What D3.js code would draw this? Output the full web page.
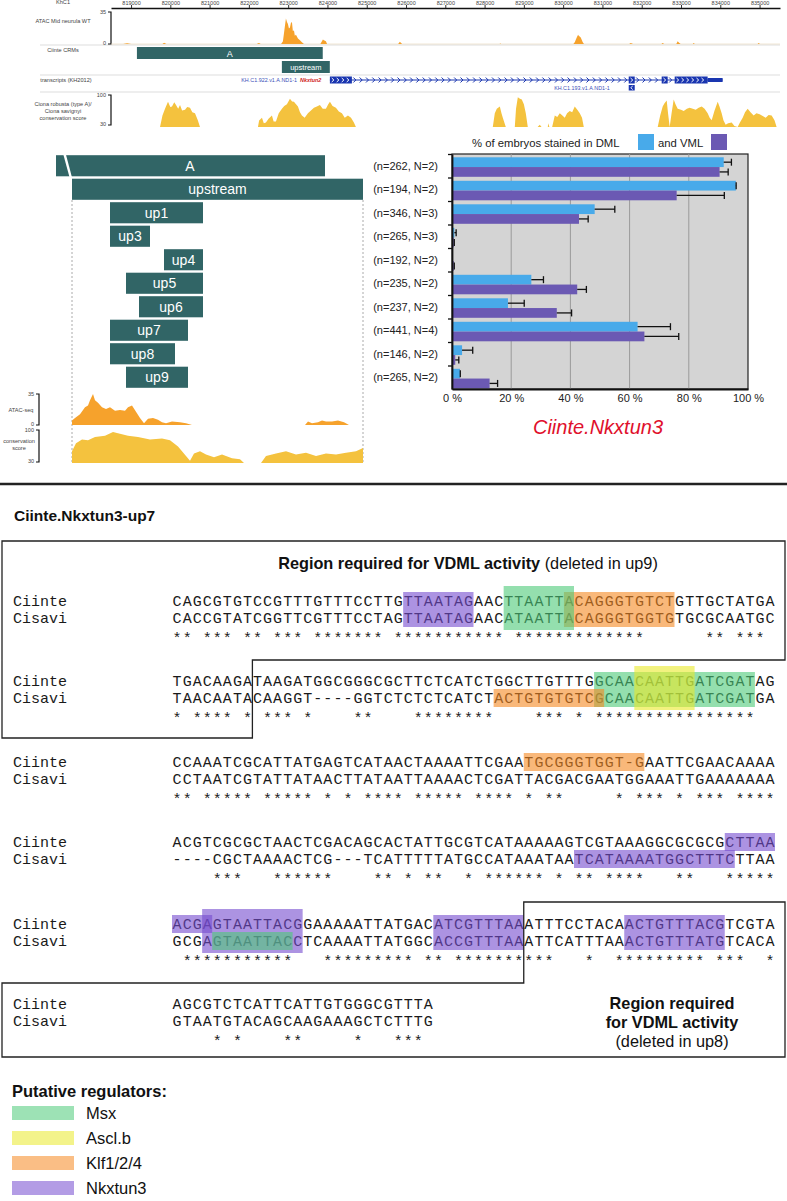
<!DOCTYPE html>
<html lang="en">
<head>
<meta charset="utf-8">
<title>Ciinte.Nkxtun3 upstream CRM</title>
<script src="https://cdn.jsdelivr.net/npm/d3@7"></script>
<style>
  body { margin: 0; background: #fff; }
  svg { display: block; font-family: "Liberation Sans", Arial, sans-serif; }
  .seq { font-family: "Liberation Mono", "Courier New", monospace; font-size: 15px; fill: #1a1a1a; }
  .narrow { font-family: "Liberation Sans Narrow", "Arial Narrow", "Liberation Sans", sans-serif; }
</style>
</head>
<body>
<div id="chart"></div>
<script>
// ---------- genome browser (KhC1) ----------
var axisTicks = [819000, 820000, 821000, 822000, 823000, 824000, 825000, 826000, 827000,
                 828000, 829000, 830000, 831000, 832000, 833000, 834000, 835000];

// ATAC mid neurula WT, [position, signal]; null = no data
var atacTop = [[818800,0],[818900,0.8],[819000,0],[819800,0],[819840,1.5],[819900,0],
  [822200,0],[822256,1],[822300,0],
  [822820,0],[822867,3],[822918,20],[822943,28],[822970,24],[822994,22],[823020,17],[823045,18],[823070,23],
  [823096,24],[823120,14],[823147,15],[823170,9],[823198,10],[823249,6],[823300,4],[823350,2],[823402,0],
  [823820,0],[823859,3],[823885,5],[823910,4],[823961,3],[823990,0],
  [825800,0],[825843,2.5],[825900,0],[828380,0],[828400,0.6],[828420,0],
  [830260,0],[830295,2],[830346,7],[830380,10],[830397,9],[830448,7],[830499,2],[830530,0],
  [831680,0],[831720,1.2],[831780,0],[832500,0],[832534,1],[832570,0],
  [832880,0],[832916,3],[832950,1.5],[832990,0],[833300,0],[833323,1],[833350,0],
  [834950,0],[834976,1],[835010,0]];

// conservation score C. robusta / C. savignyi, [position, score]
var consTop = [[819738,30],[819800,55],[819865,70],[819941,85],[820000,74],[820043,75],[820100,84],[820145,78],
  [820200,70],[820247,78],[820300,66],[820374,68],[820430,74],[820501,72],[820560,62],[820628,60],[820700,45],[820755,30],[820756,null],
  [822231,30],[822260,44],[822333,50],[822380,38],[822434,40],[822500,48],[822587,55],[822630,42],[822689,42],
  [822760,60],[822841,70],[822900,76],[822968,80],[823045,92],[823100,86],[823147,85],[823200,80],[823249,75],
  [823300,62],[823350,55],[823420,50],[823503,60],[823580,66],[823656,72],[823730,75],[823808,78],[823880,70],
  [823961,70],[824020,80],[824063,85],[824130,76],[824215,72],[824290,64],[824368,60],[824440,50],[824521,55],
  [824600,50],[824673,40],[824724,30],[824725,null],
  [828209,30],[828260,60],[828311,70],[828388,75],[828430,60],[828464,50],[828540,30],[828769,30],[828800,70],
  [828846,95],[828900,92],[828947,90],[829000,80],[829049,60],[829100,30],[829350,30],[829405,35],[829450,30],
  [829609,30],[829620,38],[829650,30],[829720,30],[829787,55],[829850,52],[829914,60],[829980,55],[830041,50],
  [830100,60],[830168,65],[830230,62],[830295,75],[830360,68],[830423,60],[830480,50],[830525,30],[830526,null],
  [832407,30],[832470,55],[832534,75],[832580,82],[832636,88],[832670,60],[832712,30],[832760,60],[832814,90],
  [832860,80],[832916,70],[833000,68],[833069,65],[833150,70],[833221,72],[833300,70],[833374,68],[833450,72],
  [833527,75],[833600,70],[833679,60],[833730,50],[833781,45],[833850,65],[833934,85],[833980,75],[834035,60],
  [834080,45],[834137,35],[834200,38],[834290,40],[834360,32],[834442,30],[834500,40],[834570,50],[834630,62],
  [834697,70],[834770,62],[834850,55],[834920,60],[835002,58],[835080,54],[835155,50],[835230,56],[835307,55],
  [835380,45],[835434,30]];

var crmNames = ["A", "upstream"];
var crmStart = [819150, 822840];
var crmEnd = [823880, 824060];

// KH.C1.922 (Nkxtun2) gene model
var exonStart = [824062, 831669, 832508, 832839];
var exonEnd = [824622, 831822, 832661, 833678];
var utrEnd = 834060;
// KH.C1.193 short transcript (reverse strand)
var revExon = [831669, 831822];

// ---------- constructs and reporter assay ----------
var constructs = ["A", "upstream", "up1", "up3", "up4", "up5", "up6", "up7", "up8", "up9"];
var conStart = [-160, 0, 380, 380, 920, 540, 670, 380, 380, 540];
var conEnd = [2530, 2910, 1310, 780, 1310, 1310, 1310, 1160, 1030, 1160];
var nLabels = ["(n=262, N=2)", "(n=194, N=2)", "(n=346, N=3)", "(n=265, N=3)", "(n=192, N=2)",
               "(n=235, N=2)", "(n=237, N=2)", "(n=441, N=4)", "(n=146, N=2)", "(n=265, N=2)"];
var dml = [91.8, 95.9, 48.2, 0.8, 0, 26.8, 18.9, 62.7, 3.4, 2.7];
var dmlErr = [94.4, 96.0, 55.0, 1.4, 0, 30.9, 24.4, 73.8, 7.0, 2.8];
var vml = [90.4, 75.9, 42.9, 0.6, 0.6, 42.3, 35.4, 65.0, 1.1, 12.7];
var vmlErr = [93.3, 92.0, 46.0, 0.6, 0.6, 45.4, 40.4, 76.6, 2.3, 15.4];
var pctTicks = [0, 20, 40, 60, 80, 100];

// ATAC-seq and conservation under the upstream fragment, [bp, value]
var atacCon = [[0,0],[0,5],[30,8],[80,12],[130,20],[160,22],[180,28],[210,35],[230,28],[260,25],[300,20],
  [340,18],[380,20],[430,16],[480,17],[530,16],[560,20],[600,22],[640,15],[680,8],[720,2],[760,7],[810,8],
  [860,6],[900,3],[940,2],[1000,4],[1080,3],[1140,2],[1200,0],[1201,null],
  [2330,0],[2360,4],[2400,2],[2460,3],[2500,5],[2540,4],[2600,4],[2660,5],[2720,3],[2770,0]];
var consCon = [[0,55],[40,72],[100,80],[160,78],[230,85],[330,88],[410,96],[480,92],[560,88],[660,85],
  [780,80],[900,82],[980,78],[1060,65],[1140,45],[1180,35],[1220,50],[1280,55],[1340,48],[1420,42],
  [1500,48],[1600,40],[1680,38],[1720,30],[1721,null],[1890,30],[1940,45],[2040,50],[2140,55],[2240,48],
  [2340,52],[2440,45],[2540,50],[2640,48],[2740,52],[2840,55],[2910,62]];

// ---------- Ciinte.Nkxtun3-up7 alignment ----------
var ciinte = ["CAGCGTGTCCGTTTGTTTCCTTGTTAATAGAACTTAATTACAGGGTGTCTGTTGCTATGA",
              "TGACAAGATAAGATGGCGGGCGCTTCTCATCTGGCTTGTTTGGCAACAATTGATCGATAG",
              "CCAAATCGCATTATGAGTCATAACTAAAATTCGAATGCGGGTGGT-GAATTCGAACAAAA",
              "ACGTCGCGCTAACTCGACAGCACTATTGCGTCATAAAAAGTCGTAAAGGCGCGCGCTTAA",
              "ACGAGTAATTACGGAAAAATTATGACATCGTTTAAATTTCCTACAACTGTTTACGTCGTA",
              "AGCGTCTCATTCATTGTGGGCGTTTA"];
var cisavi = ["CACCGTATCGGTTCGTTTCCTAGTTAATAGAACATAATTACAGGGTGGTGTGCGCAATGC",
              "TAACAATACAAGGT----GGTCTCTCTCATCTACTGTGTGTCGCAACAATTGATCGATGA",
              "CCTAATCGTATTATAACTTATAATTAAAACTCGATTACGACGAATGGAAATTGAAAAAAA",
              "----CGCTAAAACTCG---TCATTTTTATGCCATAAATAATCATAAAATGGCTTTCTTAA",
              "GCGAGTAATTACCTCAAAATTATGGCACCGTTTAAATTCATTTAAACTGTTTATGTCACA",
              "GTAATGTACAGCAAGAAAGCTCTTTG"];

var regulators = ["Msx", "Ascl.b", "Klf1/2/4", "Nkxtun3"];
// binding-site highlights: block, first/last column (1-based), first/last row (0 Ciinte, 1 Cisavi)
var hlBlock = [0, 0, 0, 1, 1, 1, 2, 3, 3, 4, 4, 4, 4, 4];
var hlFrom  = [24, 40, 34, 43, 33, 47, 36, 56, 41, 1, 4, 5, 27, 46];
var hlTo    = [30, 50, 40, 58, 43, 52, 47, 60, 56, 4, 13, 12, 35, 55];
var hlRow0  = [0, 0, 0, 0, 1, 0, 0, 0, 1, 0, 0, 1, 0, 0];
var hlRow1  = [1, 1, 1, 1, 1, 1, 0, 0, 1, 0, 1, 1, 1, 1];
var hlReg   = ["Nkxtun3", "Klf1/2/4", "Msx", "Msx", "Klf1/2/4", "Ascl.b", "Klf1/2/4", "Nkxtun3", "Nkxtun3",
               "Nkxtun3", "Nkxtun3", "Msx", "Nkxtun3", "Nkxtun3"];
var hlTall  = [0, 0, 1, 0, 0, 1, 0, 0, 0, 0, 1, 0, 0, 0];

// ================= drawing =================
var W = 787, H = 1201;
var svg = d3.select("#chart").append("svg").attr("width", W).attr("height", H);
svg.append("rect").attr("width", W).attr("height", H).attr("fill", "#fff");

var atacColor = "#f6a22c", consColor = "#f4c23e", teal = "#316566";

// --- browser ---
var xg = d3.scaleLinear().domain([818490, 835520]).range([111, 780]);
var gb = svg.append("g");

var gAxis = gb.append("g").attr("transform", "translate(0,8)")
  .call(d3.axisTop(xg).tickValues(axisTicks).tickSize(3).tickSizeOuter(0).tickFormat(d3.format("d")));
gAxis.select(".domain").attr("stroke", "#111").attr("stroke-width", 1.3);
gAxis.selectAll(".tick line").attr("stroke", "#333");
gAxis.selectAll(".tick text").attr("y", -3.5).attr("font-size", 5.5).attr("fill", "#444");

gb.selectAll(".sep").data([45, 75, 92]).enter().append("line")
  .attr("x1", 40).attr("x2", 780).attr("y1", function(d) { return d; }).attr("y2", function(d) { return d; })
  .attr("stroke", "#d4d4d4").attr("stroke-width", 0.8);

var trackLabels = [["KhC1", 4], ["ATAC Mid neurula WT", 23], ["Ciinte CRMs", 52], ["transcripts (KH2012)", 82],
  ["Ciona robusta (type A)/", 106], ["Ciona savignyi", 113], ["conservation score", 120]];
gb.selectAll(".tl").data(trackLabels).enter().append("text")
  .attr("x", function(d, i) { return i == 3 ? 66 : 63; }).attr("y", function(d) { return d[1]; })
  .attr("text-anchor", "middle").attr("font-size", 5.6).attr("fill", "#444")
  .text(function(d) { return d[0]; });

var ya = d3.scaleLinear().domain([0, 35]).range([44, 12]);
var yc = d3.scaleLinear().domain([30, 100]).range([127, 95]);

function bracket(g, x, y0, y1, hiLab, loLab) {
  g.append("path").attr("d", "M" + (x - 3) + "," + y0 + "H" + x + "V" + y1 + "H" + (x - 3))
    .attr("fill", "none").attr("stroke", "#111").attr("stroke-width", 1.2);
  g.append("text").attr("x", x - 5).attr("y", y0 + 2).attr("text-anchor", "end").attr("font-size", 5.5).attr("fill", "#444").text(hiLab);
  g.append("text").attr("x", x - 5).attr("y", y1 + 1).attr("text-anchor", "end").attr("font-size", 5.5).attr("fill", "#444").text(loLab);
}
bracket(gb, 111, 12, 44, "35", "0");
bracket(gb, 111, 95, 125, "100", "30");

gb.append("line").attr("x1", 111).attr("x2", 780).attr("y1", 44).attr("y2", 44).attr("stroke", "#e8d6b8").attr("stroke-width", 0.6);
gb.append("path").datum(atacTop)
  .attr("d", d3.area().defined(function(d) { return d[1] != null; })
    .x(function(d) { return xg(d[0]); }).y0(ya(0)).y1(function(d) { return ya(d[1]); }))
  .attr("fill", atacColor);
gb.append("path").datum(consTop)
  .attr("d", d3.area().defined(function(d) { return d[1] != null; })
    .x(function(d) { return xg(d[0]); }).y0(yc(30)).y1(function(d) { return yc(d[1]); }))
  .attr("fill", consColor);

// CRMs
gb.selectAll(".crm").data(crmNames).enter().append("rect")
  .attr("x", function(d, i) { return xg(crmStart[i]); })
  .attr("width", function(d, i) { return xg(crmEnd[i]) - xg(crmStart[i]); })
  .attr("y", function(d, i) { return i == 0 ? 47 : 61; }).attr("height", 12)
  .attr("fill", teal);
gb.selectAll(".crmt").data(crmNames).enter().append("text")
  .attr("x", function(d, i) { return (xg(crmStart[i]) + xg(crmEnd[i])) / 2; })
  .attr("y", function(d, i) { return i == 0 ? 56.5 : 70; })
  .attr("text-anchor", "middle").attr("fill", "#fff").attr("font-size", function(d, i) { return i == 0 ? 9 : 7.5; })
  .text(function(d) { return d; });

// transcripts
var blue = "#1a36b0";
gb.append("line").attr("x1", xg(exonStart[0])).attr("x2", xg(utrEnd)).attr("y1", 80).attr("y2", 80)
  .attr("stroke", blue).attr("stroke-width", 1);
var chev = [];
for (var i = 0; i < exonStart.length - 1; i++) {
  d3.range(xg(exonEnd[i]) + 3, xg(exonStart[i + 1]) - 2, 6.3).forEach(function(x) { chev.push(x); });
}
gb.selectAll(".chev").data(chev).enter().append("path")
  .attr("d", function(d) { return "M" + (d - 1.5) + ",77.5L" + (d + 1) + ",80L" + (d - 1.5) + ",82.5"; })
  .attr("fill", "none").attr("stroke", blue).attr("stroke-width", 1);
gb.selectAll(".exon").data(exonStart).enter().append("rect")
  .attr("x", function(d) { return xg(d); })
  .attr("width", function(d, i) { return xg(exonEnd[i]) - xg(d); })
  .attr("y", 76.5).attr("height", 7).attr("fill", blue);
gb.append("rect").attr("x", xg(exonEnd[3])).attr("width", xg(utrEnd) - xg(exonEnd[3]))
  .attr("y", 78).attr("height", 4).attr("fill", blue);
var wch = [];
[0, 3].forEach(function(k) {
  d3.range(xg(exonStart[k]) + 3, xg(exonEnd[k]) - 2, 5).forEach(function(x) { wch.push(x); });
});
[1, 2].forEach(function(k) { wch.push((xg(exonStart[k]) + xg(exonEnd[k])) / 2); });
gb.selectAll(".wch").data(wch).enter().append("path")
  .attr("d", function(d) { return "M" + (d - 1.2) + ",78L" + (d + 1) + ",80L" + (d - 1.2) + ",82"; })
  .attr("fill", "none").attr("stroke", "#fff").attr("stroke-width", 1);
gb.append("rect").attr("x", xg(revExon[0])).attr("width", xg(revExon[1]) - xg(revExon[0]))
  .attr("y", 85).attr("height", 5.5).attr("fill", blue);
gb.append("path").attr("d", "M" + (xg(revExon[0]) + 4) + ",86L" + (xg(revExon[0]) + 2) + ",87.7L" + (xg(revExon[0]) + 4) + ",89.5")
  .attr("fill", "none").attr("stroke", "#fff").attr("stroke-width", 0.9);
gb.append("text").attr("x", 297).attr("y", 82).attr("text-anchor", "end").attr("font-size", 5.4).attr("fill", "#3b4fb8")
  .text("KH.C1.922.v1.A.ND1-1");
gb.append("text").attr("x", 300).attr("y", 82).attr("font-size", 5.4).attr("font-style", "italic").attr("font-weight", "bold")
  .attr("fill", "#d01c1c").text("Nkxtun2");
gb.append("text").attr("x", 582).attr("y", 90).attr("text-anchor", "middle").attr("font-size", 5.4).attr("fill", "#3b4fb8")
  .text("KH.C1.193.v1.A.ND1-1");

// --- construct panel ---
var yb = d3.scaleBand().domain(d3.range(constructs.length)).range([154, 389]);
var xc = d3.scaleLinear().domain([0, 2910]).range([72, 363]);
var mid = svg.append("g");

mid.selectAll(".dash").data([0, 2910]).enter().append("line")
  .attr("x1", function(d) { return xc(d); }).attr("x2", function(d) { return xc(d); })
  .attr("y1", 200).attr("y2", 463)
  .attr("stroke", "#aaa").attr("stroke-width", 1).attr("stroke-dasharray", "2,2");

mid.selectAll(".con").data(constructs).enter().append("rect")
  .attr("x", function(d, i) { return xc(conStart[i]); })
  .attr("width", function(d, i) { return xc(conEnd[i]) - xc(conStart[i]); })
  .attr("y", function(d, i) { return yb(i) + 1.2; })
  .attr("height", yb.bandwidth() - 2.4)
  .attr("fill", teal);
// break in A (it extends further upstream)
mid.append("polygon")
  .attr("points", [[xc(-88), yb(0)], [xc(-62), yb(0)], [xc(0), yb(0) + yb.bandwidth()], [xc(-24), yb(0) + yb.bandwidth()]].join(" "))
  .attr("fill", "#fff");
mid.selectAll(".cont").data(constructs).enter().append("text")
  .attr("x", function(d, i) { return i == 0 ? 190 : (xc(conStart[i]) + xc(conEnd[i])) / 2; })
  .attr("y", function(d, i) { return yb(i) + yb.bandwidth() / 2 + 5; })
  .attr("text-anchor", "middle").attr("fill", "#fff").attr("font-size", 14)
  .text(function(d) { return d; });

var ya2 = d3.scaleLinear().domain([0, 35]).range([425, 394]);
var yc2 = d3.scaleLinear().domain([30, 100]).range([463, 430]);
mid.append("path").datum(atacCon)
  .attr("d", d3.area().defined(function(d) { return d[1] != null; })
    .x(function(d) { return xc(d[0]); }).y0(ya2(0)).y1(function(d) { return ya2(d[1]); }))
  .attr("fill", atacColor);
mid.append("path").datum(consCon)
  .attr("d", d3.area().defined(function(d) { return d[1] != null; })
    .x(function(d) { return xc(d[0]); }).y0(yc2(30)).y1(function(d) { return yc2(d[1]); }))
  .attr("fill", consColor);
bracket(mid, 39, 394, 425, "35", "0");
bracket(mid, 39, 430, 462, "100", "30");
mid.append("text").attr("x", 21).attr("y", 412).attr("text-anchor", "middle").attr("font-size", 5.6).attr("fill", "#444").text("ATAC-seq");
mid.append("text").attr("x", 19).attr("y", 443).attr("text-anchor", "middle").attr("font-size", 5.6).attr("fill", "#444").text("conservation");
mid.append("text").attr("x", 19).attr("y", 450).attr("text-anchor", "middle").attr("font-size", 5.6).attr("fill", "#444").text("score");

// --- bar chart ---
var xb = d3.scaleLinear().domain([0, 100]).range([452, 748]);
var dmlColor = "#48aaea", vmlColor = "#6b59b3";
var bars = svg.append("g");
bars.append("rect").attr("x", xb(0)).attr("y", 154).attr("width", xb(100) - xb(0)).attr("height", 235)
  .attr("fill", "#d4d4d4").attr("stroke", "#222").attr("stroke-width", 1.2);
bars.selectAll(".grid").data([20, 40, 60, 80]).enter().append("line")
  .attr("x1", function(d) { return xb(d); }).attr("x2", function(d) { return xb(d); })
  .attr("y1", 154).attr("y2", 389).attr("stroke", "#9a9a9a").attr("stroke-width", 1);

var half = (yb.bandwidth() - 4) / 2;
bars.selectAll(".dml").data(dml).enter().append("rect")
  .attr("x", xb(0)).attr("y", function(d, i) { return yb(i) + 3.3; })
  .attr("width", function(d) { return xb(d) - xb(0); }).attr("height", half)
  .attr("fill", dmlColor);
bars.selectAll(".vml").data(vml).enter().append("rect")
  .attr("x", xb(0)).attr("y", function(d, i) { return yb(i) + 3.3 + half; })
  .attr("width", function(d) { return xb(d) - xb(0); }).attr("height", half)
  .attr("fill", vmlColor);

function errBars(vals, errs, off) {
  var g = bars.append("g").attr("stroke", "#111").attr("stroke-width", 1.3);
  vals.forEach(function(v, i) {
    if (errs[i] - v < 0.05) return;
    var cy = yb(i) + 3.3 + off + half / 2;
    g.append("line").attr("x1", xb(v)).attr("x2", xb(errs[i])).attr("y1", cy).attr("y2", cy);
    g.append("line").attr("x1", xb(errs[i])).attr("x2", xb(errs[i])).attr("y1", cy - 3.5).attr("y2", cy + 3.5);
  });
}
errBars(dml, dmlErr, 0);
errBars(vml, vmlErr, half);
// caps on bars touching their mean
[[dml, dmlErr, 0], [vml, vmlErr, half]].forEach(function(s) {
  s[0].forEach(function(v, i) {
    if (s[1][i] - v >= 0.05 || v == 0) return;
    var cy = yb(i) + 3.3 + s[2] + half / 2;
    bars.append("line").attr("x1", xb(v) + 0.5).attr("x2", xb(v) + 0.5).attr("y1", cy - 3.5).attr("y2", cy + 3.5)
      .attr("stroke", "#111").attr("stroke-width", 1.3);
  });
});

var yTicks = d3.scaleLinear().domain([154, 389]).range([154, 389]);
var gy = bars.append("g").attr("transform", "translate(" + xb(0) + ",0)")
  .call(d3.axisLeft(yTicks).tickValues(d3.range(1, constructs.length).map(function(i) { return yb(i); }).concat([154]))
    .tickSize(4).tickSizeOuter(0).tickFormat(""));
gy.select(".domain").attr("stroke", "#111").attr("stroke-width", 1.8);
gy.selectAll(".tick line").attr("stroke", "#111").attr("stroke-width", 1.3);

var gx = bars.append("g").attr("transform", "translate(0,389)")
  .call(d3.axisBottom(xb).tickValues(pctTicks).tickSize(0).tickPadding(5).tickFormat(function(d) { return d + " %"; }));
gx.select(".domain").attr("stroke", "#111").attr("stroke-width", 1.8);
gx.selectAll("text").attr("font-size", 11).attr("fill", "#222").attr("font-family", "Liberation Sans, Arial, sans-serif");

bars.selectAll(".nl").data(nLabels).enter().append("text")
  .attr("x", 438).attr("y", function(d, i) { return yb(i) + yb.bandwidth() / 2 + 4; })
  .attr("text-anchor", "end").attr("font-size", 11).attr("fill", "#222")
  .text(function(d) { return d; });

bars.append("text").attr("x", 472).attr("y", 147).attr("font-size", 11.3).attr("fill", "#222").text("% of embryos stained in DML");
bars.append("rect").attr("x", 638).attr("y", 134).attr("width", 16).attr("height", 16).attr("fill", dmlColor);
bars.append("text").attr("x", 658).attr("y", 147).attr("font-size", 11.3).attr("fill", "#222").text("and VML");
bars.append("rect").attr("x", 711).attr("y", 134).attr("width", 16).attr("height", 16).attr("fill", vmlColor);
bars.append("text").attr("x", 598).attr("y", 434).attr("text-anchor", "middle").attr("font-size", 20)
  .attr("font-style", "italic").attr("fill", "#e0102c").text("Ciinte.Nkxtun3");

// --- divider ---
svg.append("line").attr("x1", 0).attr("x2", W).attr("y1", 484).attr("y2", 484).attr("stroke", "#222").attr("stroke-width", 2.5);

// --- alignment ---
var regFill = d3.scaleOrdinal().domain(regulators).range(["#4cca78", "#e9e92a", "#f58921", "#754bcf"]);
var xs = d3.scaleLinear().domain([0, 60]).range([172, 775]);
var blockY = [601, 681, 762, 842, 924, 1004];
var rowGap = 17;
var al = svg.append("g");

al.append("text").attr("x", 14).attr("y", 521).attr("font-size", 15.5).attr("font-weight", "bold").attr("fill", "#111")
  .text("Ciinte.Nkxtun3-up7");

function stars(a, b) {
  return a.split("").map(function(c, i) { return (c == b[i] && c != "-") ? "*" : " "; }).join("");
}
function seqText(str, y) {
  al.append("text").attr("class", "seq").attr("y", y)
    .attr("x", str.split("").map(function(c, i) { return (xs(i) + 0.6).toFixed(2); }).join(" "))
    .text(str.replace(/ /g, "\u00a0"));
}
blockY.forEach(function(y, b) {
  al.append("text").attr("class", "seq").attr("x", 13).attr("y", y + 5).text("Ciinte");
  al.append("text").attr("class", "seq").attr("x", 13).attr("y", y + rowGap + 5).text("Cisavi");
  seqText(ciinte[b], y + 5);
  seqText(cisavi[b], y + rowGap + 5);
  seqText(stars(ciinte[b], cisavi[b]), y + 2 * rowGap + 8);
});

al.selectAll(".hl").data(hlBlock).enter().append("rect")
  .attr("x", function(d, i) { return xs(hlFrom[i] - 1); })
  .attr("width", function(d, i) { return xs(hlTo[i]) - xs(hlFrom[i] - 1); })
  .attr("y", function(d, i) { return blockY[d] + hlRow0[i] * rowGap - 9 - (hlTall[i] ? 6 : 0); })
  .attr("height", function(d, i) { return (hlRow1[i] - hlRow0[i]) * rowGap + 18 + (hlTall[i] ? 9 : 0); })
  .attr("fill", function(d, i) { return regFill(hlReg[i]); })
  .attr("opacity", 0.6);

var boxY0 = 541, boxY1 = 1057;
al.append("path")
  .attr("d", "M2," + boxY0 + "H785V660H" + xs(8) + "V738H2Z")
  .attr("fill", "none").attr("stroke", "#222").attr("stroke-width", 1.3);
al.append("path")
  .attr("d", "M2," + boxY1 + "H785V902H" + xs(35) + "V983H2Z")
  .attr("fill", "none").attr("stroke", "#222").attr("stroke-width", 1.3);

var r1 = al.append("text").attr("class", "narrow").attr("x", 468).attr("y", 569).attr("text-anchor", "middle")
  .attr("font-size", 16.3).attr("fill", "#111");
r1.append("tspan").attr("font-weight", "bold").text("Region required for VDML activity ");
r1.append("tspan").text("(deleted in up9)");
[["Region required", 1, 1009], ["for VDML activity", 1, 1028], ["(deleted in up8)", 0, 1047]].forEach(function(d) {
  al.append("text").attr("class", "narrow").attr("x", 672).attr("y", d[2]).attr("text-anchor", "middle")
    .attr("font-size", 16.3).attr("font-weight", d[1] ? "bold" : "normal").attr("fill", "#111").text(d[0]);
});

// --- legend ---
var leg = svg.append("g");
leg.append("text").attr("class", "narrow").attr("x", 12).attr("y", 1097).attr("font-size", 16.5).attr("font-weight", "bold")
  .attr("fill", "#111").text("Putative regulators:");
leg.selectAll(".sw").data(regulators).enter().append("rect")
  .attr("x", 12).attr("y", function(d, i) { return 1106 + i * 25; }).attr("width", 62).attr("height", 14)
  .attr("fill", function(d) { return regFill(d); }).attr("opacity", 0.55);
leg.selectAll(".lt").data(regulators).enter().append("text").attr("class", "narrow")
  .attr("x", 86).attr("y", function(d, i) { return 1119 + i * 25; }).attr("font-size", 16.5).attr("fill", "#111")
  .text(function(d) { return d; });
</script>
</body>
</html>
